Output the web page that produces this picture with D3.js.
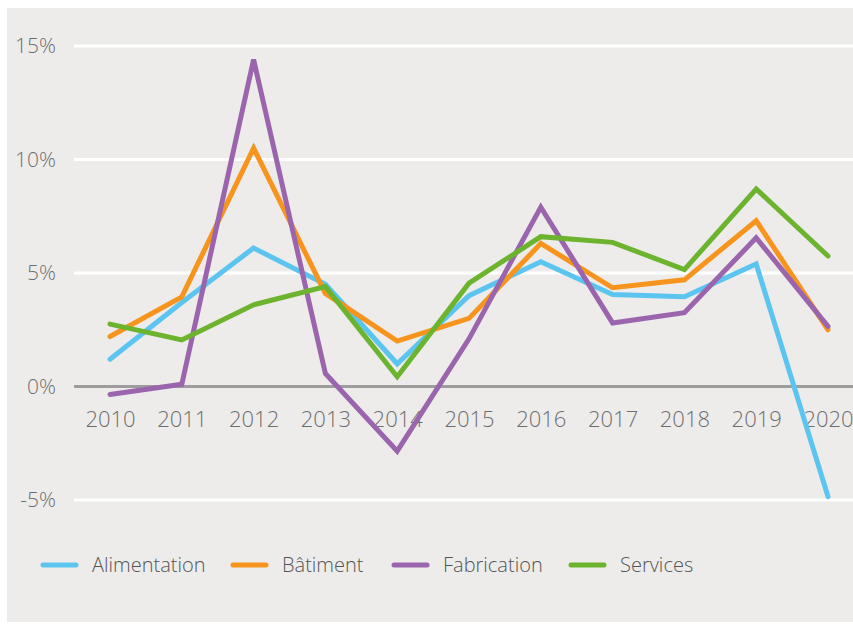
<!DOCTYPE html>
<html>
<head>
<meta charset="utf-8">
<script src="https://cdnjs.cloudflare.com/ajax/libs/d3/7.8.5/d3.min.js"></script>
<style>
  body { margin: 0; background: #fff; }
  text { font-family: "Open Sans", sans-serif; font-weight: 300; }
</style>
</head>
<body>
<div id="chart"></div>
<script>
var years = [2010, 2011, 2012, 2013, 2014, 2015, 2016, 2017, 2018, 2019, 2020];
var yTicks = [-5, 0, 5, 10, 15];

var alimentation = [1.2, 3.7, 6.1, 4.5, 1.0, 4.0, 5.5, 4.05, 3.95, 5.4, -4.85];
var batiment     = [2.2, 3.95, 10.5, 4.1, 2.0, 3.0, 6.3, 4.35, 4.7, 7.3, 2.5];
var fabrication  = [-0.35, 0.1, 14.4, 0.57, -2.85, 2.1, 7.9, 2.8, 3.25, 6.55, 2.65];
var services     = [2.75, 2.05, 3.6, 4.4, 0.43, 4.55, 6.6, 6.35, 5.15, 8.7, 5.75];

var seriesNames = ['Alimentation', 'Bâtiment', 'Fabrication', 'Services'];
var seriesValues = [alimentation, batiment, fabrication, services];
var seriesColors = ['#5bc5f0', '#f7941d', '#9b65ad', '#6cb32e'];

var width = 853, height = 627;

var svg = d3.select('#chart').append('svg').attr('width', width).attr('height', height);

// panel background
svg.append('rect').attr('x', 7).attr('y', 8).attr('width', width - 7).attr('height', 614)
   .attr('fill', '#edeceb');

var x = d3.scalePoint().domain(years).range([110, 828]);
var y = d3.scaleLinear().domain([-5, 15]).range([500, 46]);

// grid lines
svg.selectAll('line.grid')
   .data(yTicks)
   .enter()
   .append('line')
   .attr('class', 'grid')
   .attr('x1', 74).attr('x2', width)
   .attr('y1', function(d) { return y(d); })
   .attr('y2', function(d) { return y(d); })
   .attr('stroke', function(d) { return d === 0 ? '#9d9d9d' : '#ffffff'; })
   .attr('stroke-width', 3);

// y axis labels
var yAxis = d3.axisLeft(y).tickValues(yTicks).tickSize(0).tickPadding(0)
   .tickFormat(function(d) { return d + '%'; });
var gy = svg.append('g').attr('transform', 'translate(56,0)').call(yAxis);
gy.select('.domain').remove();
gy.selectAll('text').attr('font-size', 21).attr('fill', '#6e6e6e')
   .style('font-family', '"Open Sans", sans-serif').style('font-weight', 300);

// x axis labels
var xAxis = d3.axisBottom(x).tickSize(0).tickPadding(0);
var gx = svg.append('g').attr('transform', 'translate(0,411)').call(xAxis);
gx.select('.domain').remove();
gx.selectAll('text').attr('font-size', 22).attr('fill', '#6e6e6e')
   .style('font-family', '"Open Sans", sans-serif').style('font-weight', 300);

// lines
var line = d3.line()
   .x(function(d, i) { return x(years[i]); })
   .y(function(d) { return y(d); });

svg.selectAll('path.series')
   .data(seriesValues)
   .enter()
   .append('path')
   .attr('class', 'series')
   .attr('d', line)
   .attr('fill', 'none')
   .attr('stroke', function(d, i) { return seriesColors[i]; })
   .attr('stroke-width', 5)
   .attr('stroke-linejoin', 'miter')
   .attr('stroke-linecap', 'round');

// legend
var legendX = [41, 231, 392, 569];
var lg = svg.selectAll('g.legend')
   .data(seriesNames)
   .enter()
   .append('g')
   .attr('class', 'legend')
   .attr('transform', function(d, i) { return 'translate(' + legendX[i] + ',565)'; });

lg.append('line')
   .attr('x1', 2).attr('x2', 35)
   .attr('stroke', function(d, i) { return seriesColors[i]; })
   .attr('stroke-width', 5)
   .attr('stroke-linecap', 'round');

lg.append('text')
   .attr('x', 51).attr('dy', '0.35em')
   .attr('font-size', 20).attr('fill', '#555')
   .text(function(d) { return d; });
</script>
</body>
</html>
